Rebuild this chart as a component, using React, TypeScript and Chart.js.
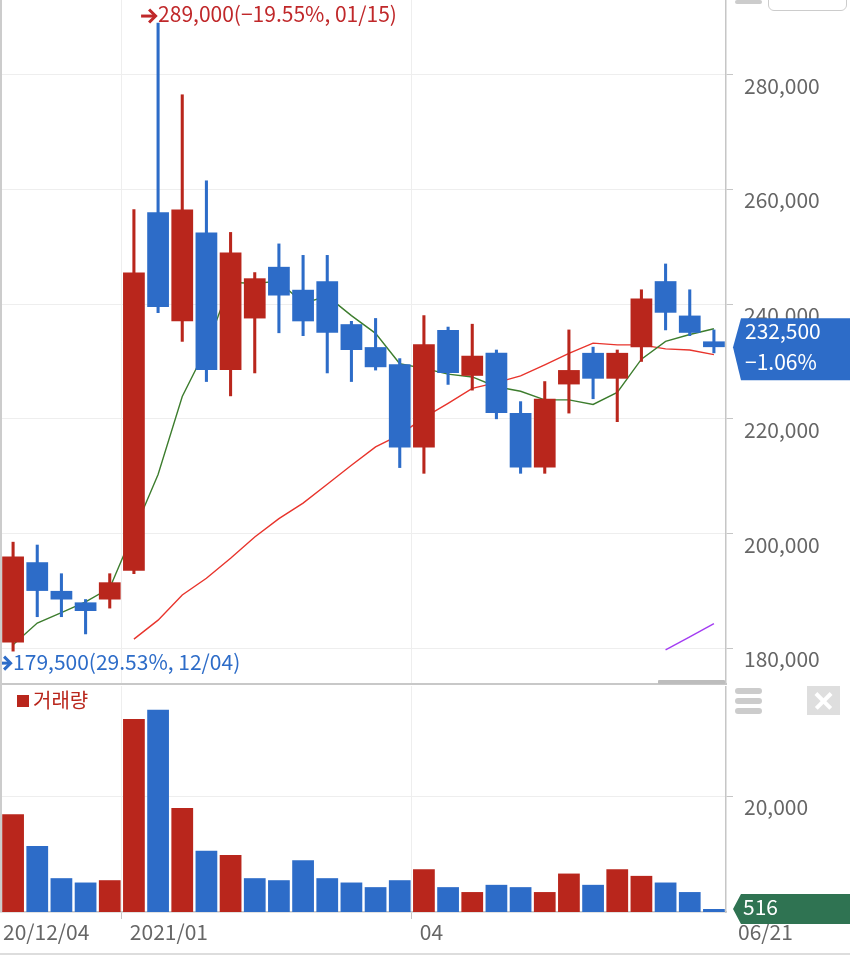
import React, { useEffect, useRef } from 'react';
import { Chart, registerables } from 'chart.js';

Chart.register(...registerables);

const FONT = '"Noto Sans CJK KR", "Noto Sans", sans-serif';
Chart.defaults.font.family = FONT;

// ---- data (weekly candles) ----
const dates = [
  '2020/12/04', '2020/12/11', '2020/12/18', '2020/12/24', '2020/12/30',
  '2021/01/08', '2021/01/15', '2021/01/22', '2021/01/29', '2021/02/05',
  '2021/02/10', '2021/02/19', '2021/02/26', '2021/03/05', '2021/03/12',
  '2021/03/19', '2021/03/26', '2021/04/02', '2021/04/09', '2021/04/16',
  '2021/04/23', '2021/04/30', '2021/05/07', '2021/05/14', '2021/05/21',
  '2021/05/28', '2021/06/04', '2021/06/11', '2021/06/18', '2021/06/21',
];
const open = [181000, 195000, 190000, 188000, 188500, 193500, 256000, 237000, 252500, 228500, 237500, 246500, 242500, 244000, 236500, 232500, 229500, 215000, 235500, 227500, 231500, 221000, 211500, 226000, 231500, 227000, 232500, 244000, 238000, 233500];
const high = [198500, 198000, 193000, 188500, 193000, 256500, 289000, 276500, 261500, 252500, 245500, 250500, 248500, 248500, 237000, 237500, 230500, 238000, 236000, 236500, 232000, 223000, 226500, 235500, 232500, 232000, 242500, 247000, 242500, 235500];
const low = [179500, 185500, 185500, 182500, 187000, 193000, 238500, 233500, 226500, 224000, 228000, 235000, 234500, 228000, 226500, 228500, 211500, 210500, 226000, 225000, 220000, 210500, 210500, 221000, 223500, 219500, 230000, 235500, 234500, 231500];
const close = [196000, 190000, 188500, 186500, 191500, 245500, 239500, 256500, 228500, 249000, 244500, 241500, 237000, 235000, 232000, 229000, 215000, 233000, 228000, 231000, 221000, 211500, 223500, 228500, 227000, 231500, 241000, 238500, 235000, 232500];
const volume = [16900, 11400, 5850, 5100, 5500, 33400, 35000, 18000, 10600, 9850, 5850, 5500, 8950, 5850, 5100, 4300, 5500, 7400, 4300, 3450, 4700, 4300, 3450, 6650, 4700, 7400, 6250, 5100, 3450, 516];
const ma5 = [180600, 184400, 186200, 188100, 190500, 200400, 210300, 223900, 232300, 243800, 243600, 244000, 240100, 241400, 238000, 234900, 229600, 228800, 227800, 227300, 225600, 224800, 223300, 223300, 222500, 224600, 230400, 233500, 234700, 235700];
const ma20 = [null, null, null, null, null, 181600, 184900, 189300, 192200, 195700, 199400, 202600, 205300, 208600, 211900, 215100, 217200, 220200, 222700, 225300, 226300, 227500, 229400, 231400, 233200, 232900, 232900, 232200, 232000, 231200];
const ma60 = [null, null, null, null, null, null, null, null, null, null, null, null, null, null, null, null, null, null, null, null, null, null, null, null, null, null, null, 179700, 182000, 184300];

const priceTicks = [180000, 200000, 220000, 240000, 260000, 280000];
const volumeTicks = [20000];
const xTickIndex = [0, 5, 17, 29];
const xTickText = ['20/12/04', '2021/01', '04', '06/21'];
const volumeLegend = '거래량';

const PRICE_MIN = 173770;
const PRICE_MAX = 293020;
const VOL_MAX = 39100;

const UP = '#b9261c';
const DOWN = '#2d6cc8';
const GRID = '#eeeeee';
const AXIS = '#c6c6c6';
const TEXT = '#666666';

const fmt = (v: number) => v.toLocaleString('en-US');
const pct = (v: number) => (v < 0 ? '\u2212' : '') + Math.abs(v).toFixed(2) + '%';
const mmdd = (d: string) => d.slice(5);

function drawArrow(ctx: CanvasRenderingContext2D, tipX: number, y: number, color: string) {
  ctx.save();
  ctx.strokeStyle = color;
  ctx.lineWidth = 3;
  ctx.lineCap = 'butt';
  ctx.lineJoin = 'miter';
  ctx.beginPath();
  ctx.moveTo(tipX - 16, y);
  ctx.lineTo(tipX - 2, y);
  ctx.stroke();
  ctx.beginPath();
  ctx.moveTo(tipX - 8, y - 6.5);
  ctx.lineTo(tipX - 1.5, y);
  ctx.lineTo(tipX - 8, y + 6.5);
  ctx.stroke();
  ctx.restore();
}

function drawTag(ctx: CanvasRenderingContext2D, tipX: number, y: number, up: number, down: number, right: number, color: string) {
  ctx.save();
  ctx.fillStyle = color;
  ctx.beginPath();
  ctx.moveTo(tipX, y);
  ctx.lineTo(tipX + 8, y - up);
  ctx.lineTo(right, y - up);
  ctx.lineTo(right, y + down);
  ctx.lineTo(tipX + 8, y + down);
  ctx.closePath();
  ctx.fill();
  ctx.restore();
}

const gridAt = (c: any) => (c.index === 5 || c.index === 17 ? GRID : 'rgba(0,0,0,0)');
const tickAt = (c: any) => (c.index === 5 || c.index === 17 ? AXIS : 'rgba(0,0,0,0)');

const noPad = (s: any) => {
  s.paddingTop = 0;
  s.paddingBottom = 0;
  s.paddingLeft = 0;
  s.paddingRight = 0;
};

export default function App() {
  const priceRef = useRef<HTMLCanvasElement>(null);
  const volRef = useRef<HTMLCanvasElement>(null);

  useEffect(() => {
    const n = dates.length;
    const candleColor = dates.map((_, i) => (close[i] >= open[i] ? UP : DOWN));
    const volColor = dates.map((_, i) =>
      i === 0 ? candleColor[0] : close[i] >= close[i - 1] ? UP : DOWN
    );
    const bodies = dates.map((_, i) => [Math.min(open[i], close[i]), Math.max(open[i], close[i])]);
    const wicks = dates.map((_, i) => [low[i], high[i]]);

    const overlayPlugin = {
      id: 'priceOverlay',
      afterDraw(chart: any) {
        const { ctx, chartArea, scales } = chart;
        const xs = scales.x;
        const ys = scales.y;
        const last = close[n - 1];
        let hi = 0;
        let lo = 0;
        high.forEach((v, i) => { if (v > high[hi]) hi = i; });
        low.forEach((v, i) => { if (v < low[lo]) lo = i; });
        ctx.save();
        ctx.font = `21px ${FONT}`;
        ctx.textBaseline = 'middle';
        ctx.textAlign = 'left';
        const hx = xs.getPixelForValue(hi);
        const hy = ys.getPixelForValue(high[hi]);
        drawArrow(ctx, hx - 1, hy - 7, '#c0282a');
        ctx.fillStyle = '#c0282a';
        ctx.fillText(`${fmt(high[hi])}(${pct((last / high[hi] - 1) * 100)}, ${mmdd(dates[hi])})`, hx, hy - 9);
        const lx = xs.getPixelForValue(lo);
        const ly = ys.getPixelForValue(low[lo]);
        drawArrow(ctx, lx - 1, ly + 12, DOWN);
        ctx.fillStyle = DOWN;
        ctx.fillText(`${fmt(low[lo])}(${pct((last / low[lo] - 1) * 100)}, ${mmdd(dates[lo])})`, lx, ly + 11);

        const py = ys.getPixelForValue(last);
        const tip = chartArea.right + 7;
        drawTag(ctx, tip, py, 29, 33, chart.width, DOWN);
        ctx.fillStyle = '#ffffff';
        ctx.fillText(fmt(last), tip + 12, py - 16);
        ctx.fillText(pct((last / close[n - 2] - 1) * 100), tip + 12, py + 15);
        ctx.restore();
      },
    };

    const priceChart = new Chart(priceRef.current as HTMLCanvasElement, {
      type: 'bar',
      data: {
        labels: dates,
        datasets: [
          { type: 'line', data: ma5 as any, borderColor: '#3d7d2e', borderWidth: 1.4, pointRadius: 0, order: 10 },
          { type: 'line', data: ma20 as any, borderColor: '#e8342c', borderWidth: 1.4, pointRadius: 0, order: 10 },
          { type: 'line', data: ma60 as any, borderColor: '#a33cf2', borderWidth: 1.4, pointRadius: 0, order: 10 },
          { type: 'bar', data: wicks as any, backgroundColor: candleColor, barThickness: 2.4, grouped: false, order: 5 } as any,
          { type: 'bar', data: bodies as any, backgroundColor: candleColor, categoryPercentage: 0.9, barPercentage: 1, grouped: false, order: 1 } as any,
        ],
      },
      options: {
        animation: false,
        responsive: false,
        maintainAspectRatio: false,
        layout: { padding: { left: 1, top: 0, right: 0, bottom: 0 } },
        plugins: { legend: { display: false }, tooltip: { enabled: false } },
        scales: {
          x: {
            grid: { offset: true, color: gridAt, drawTicks: false },
            ticks: { display: false },
            border: { display: true, color: '#c8c8c8', width: 2 },
            afterFit: (s: any) => { s.height = 2; noPad(s); },
          },
          y: {
            position: 'right',
            min: PRICE_MIN,
            max: PRICE_MAX,
            afterBuildTicks: (s: any) => { s.ticks = priceTicks.map((v) => ({ value: v })); },
            ticks: {
              callback: (v: any) => fmt(Number(v)),
              font: { size: 21, family: FONT },
              color: TEXT,
              padding: 11,
              labelOffset: 11,
            },
            grid: { color: GRID, tickLength: 7, tickColor: AXIS },
            border: { color: AXIS, width: 1.5 },
            afterFit: (s: any) => { s.width = 124; noPad(s); },
          },
        },
      },
      plugins: [overlayPlugin],
    } as any);

    const volPlugin = {
      id: 'volOverlay',
      afterDraw(chart: any) {
        const { ctx, chartArea, scales } = chart;
        const xs = scales.x;
        const ys = scales.y;
        ctx.save();
        ctx.fillStyle = UP;
        ctx.fillRect(17, 9, 12, 12);
        ctx.font = `20px ${FONT}`;
        ctx.textBaseline = 'middle';
        ctx.textAlign = 'left';
        ctx.fillText(volumeLegend, 33, 14);
        ctx.font = `21px ${FONT}`;
        ctx.fillStyle = TEXT;
        const slot = (chartArea.right - chartArea.left) / n;
        xTickIndex.forEach((idx, k) => {
          let x;
          if (idx === 0) x = chartArea.left + 2;
          else if (idx === n - 1) x = chartArea.right + 12;
          else x = xs.getPixelForValue(idx) - slot / 2 + 8;
          ctx.fillText(xTickText[k], x, chartArea.bottom + 20);
        });
        const lastV = volume[n - 1];
        const vy = ys.getPixelForValue(lastV);
        const tip = chartArea.right + 7;
        drawTag(ctx, tip, vy, 15, 15, chart.width, '#2f7352');
        ctx.fillStyle = '#ffffff';
        ctx.fillText(fmt(lastV), tip + 10, vy - 2);
        ctx.restore();
      },
    };

    const volChart = new Chart(volRef.current as HTMLCanvasElement, {
      type: 'bar',
      data: {
        labels: dates,
        datasets: [
          { data: volume, backgroundColor: volColor, categoryPercentage: 0.9, barPercentage: 1 },
        ],
      },
      options: {
        animation: false,
        responsive: false,
        maintainAspectRatio: false,
        layout: { padding: { left: 1, top: 0, right: 0, bottom: 0 } },
        plugins: { legend: { display: false }, tooltip: { enabled: false } },
        scales: {
          x: {
            grid: { offset: true, color: gridAt, tickColor: tickAt, tickLength: 7, drawTicks: true },
            ticks: { display: false },
            border: { display: true, color: AXIS, width: 1.5 },
            afterFit: (s: any) => { s.height = 44; noPad(s); },
          },
          y: {
            position: 'right',
            min: 0,
            max: VOL_MAX,
            afterBuildTicks: (s: any) => { s.ticks = volumeTicks.map((v) => ({ value: v })); },
            ticks: {
              callback: (v: any) => fmt(Number(v)),
              font: { size: 21, family: FONT },
              color: TEXT,
              padding: 11,
              labelOffset: 11,
            },
            grid: { color: GRID, tickLength: 7, tickColor: AXIS },
            border: { color: AXIS, width: 1.5 },
            afterFit: (s: any) => { s.width = 124; noPad(s); },
          },
        },
      },
      plugins: [volPlugin],
    } as any);

    return () => {
      priceChart.destroy();
      volChart.destroy();
    };
  }, []);

  const bar = (left: number, top: number, w: number, h: number, bg: string, r = 2): React.CSSProperties => ({
    position: 'absolute', left, top, width: w, height: h, background: bg, borderRadius: r,
  });

  return (
    <div style={{ position: 'absolute', left: 0, top: 0, width: 850, height: 956, background: '#fff', overflow: 'hidden' }}>
      <canvas ref={priceRef} width={850} height={686} style={{ position: 'absolute', left: 0, top: 0, width: 850, height: 686 }} />
      <canvas ref={volRef} width={850} height={270} style={{ position: 'absolute', left: 0, top: 686, width: 850, height: 270 }} />
      <div style={bar(0, 0, 1.5, 912, '#cccccc', 0)} />
      <div style={bar(0, 953, 850, 1.5, '#dddddd', 0)} />
      <div style={bar(658, 680, 67, 4, '#bdbdbd', 1)} />
      <div style={bar(735, 0, 27, 4, '#cccccc', 2)} />
      <div style={{ position: 'absolute', left: 768, top: -12, width: 77, height: 21, border: '1.5px solid #cccccc', borderRadius: 6 }} />
      <div style={bar(735, 688, 27, 6, '#cccccc', 3)} />
      <div style={bar(735, 698, 27, 6, '#cccccc', 3)} />
      <div style={bar(735, 708, 27, 6, '#cccccc', 3)} />
      <div style={{ position: 'absolute', left: 807, top: 686, width: 33, height: 29, background: '#dedede' }}>
        <div style={{ position: 'absolute', left: 6, top: 13, width: 21, height: 3.5, background: '#fff', transform: 'rotate(45deg)' }} />
        <div style={{ position: 'absolute', left: 6, top: 13, width: 21, height: 3.5, background: '#fff', transform: 'rotate(-45deg)' }} />
      </div>
    </div>
  );
}
